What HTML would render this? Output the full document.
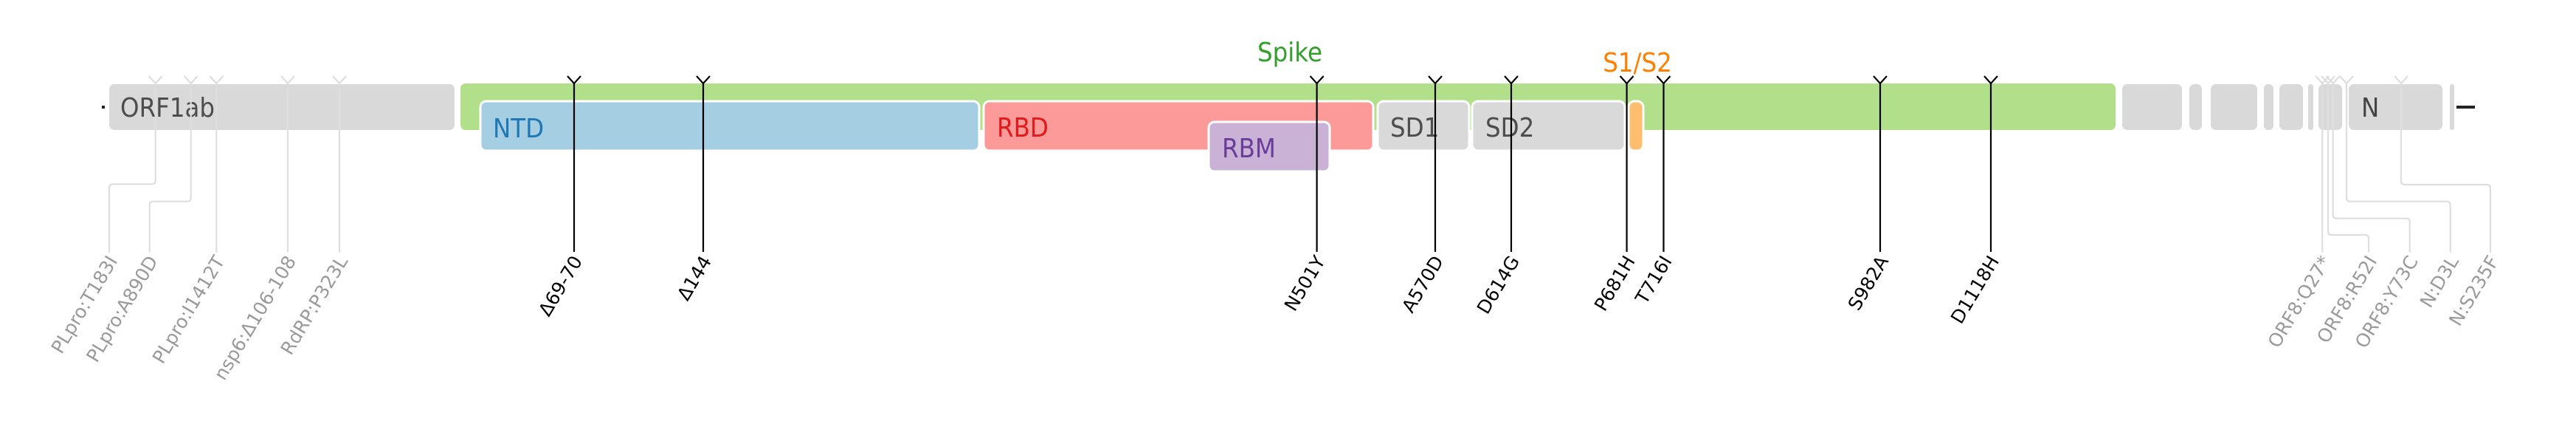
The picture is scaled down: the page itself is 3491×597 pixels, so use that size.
<!DOCTYPE html>
<html>
<head>
<meta charset="utf-8">
<style>
  html, body { margin: 0; padding: 0; background: #ffffff; }
  body { width: 3491px; height: 597px; overflow: hidden; }
  svg { display: block; }
  text { font-family: "DejaVu Sans", "Liberation Sans", sans-serif; }
  .lbl { font-size: 32.5px; }
  .mut { font-size: 25px; }
</style>
</head>
<body>
<svg width="3491" height="597" viewBox="0 0 3491 597" xmlns="http://www.w3.org/2000/svg">
  <rect x="0" y="0" width="3491" height="597" fill="#ffffff"/>

  <!-- genome start dot and end line -->
  <rect x="138" y="143" width="4" height="4" fill="#222"/>
  <rect x="3329" y="143" width="25" height="4" fill="#222"/>

  <!-- ORF1ab -->
  <rect x="147" y="113" width="470" height="64" rx="8" fill="#d9d9d9" stroke="#ffffff" stroke-width="2"/>

  <!-- Spike -->
  <rect x="623" y="112" width="2245" height="65" rx="8" fill="#b2df8a" stroke="#ffffff" stroke-width="2"/>

  <!-- Spike subdomains -->
  <rect x="651" y="137" width="676" height="67" rx="8" fill="#a6cee3" stroke="#ffffff" stroke-width="3"/>
  <rect x="1333" y="137" width="528" height="67" rx="8" fill="#fb9a99" stroke="#ffffff" stroke-width="3"/>
  <rect x="1867" y="137" width="124" height="67" rx="8" fill="#d9d9d9" stroke="#ffffff" stroke-width="3"/>
  <rect x="1995" y="137" width="207" height="67" rx="8" fill="#d9d9d9" stroke="#ffffff" stroke-width="3"/>
  <rect x="2207" y="137" width="20" height="67" rx="8" fill="#fdbf6f" stroke="#ffffff" stroke-width="3"/>
  <rect x="1638" y="165" width="164" height="67" rx="8" fill="#cab2d6" stroke="#ffffff" stroke-width="3"/>

  <!-- Downstream ORFs -->
  <g fill="#d9d9d9" stroke="#ffffff" stroke-width="2">
    <rect x="2875" y="113" width="83" height="64" rx="8"/>
    <rect x="2966" y="113" width="19" height="64" rx="8"/>
    <rect x="2995" y="113" width="65" height="64" rx="8"/>
    <rect x="3067" y="113" width="15" height="64" rx="7"/>
    <rect x="3088" y="113" width="34" height="64" rx="8"/>
    <rect x="3127" y="113" width="9" height="64" rx="4.5"/>
    <rect x="3141" y="113" width="34" height="64" rx="8"/>
    <rect x="3182" y="113" width="129" height="64" rx="8"/>
    <rect x="3319" y="113" width="8" height="64" rx="4"/>
  </g>

  <!-- Region labels -->
  <text class="lbl" fill="#4d4d4d" transform="translate(163,158) scale(1,1.1)">ORF1ab</text>
  <text class="lbl" fill="#1f78b4" transform="translate(668,186) scale(1,1.1)">NTD</text>
  <text class="lbl" fill="#e31a1c" transform="translate(1351,185) scale(1,1.1)">RBD</text>
  <text class="lbl" fill="#6a3d9a" transform="translate(1656,213) scale(1,1.1)">RBM</text>
  <text class="lbl" fill="#4d4d4d" transform="translate(1884,185) scale(1,1.1)">SD1</text>
  <text class="lbl" fill="#4d4d4d" transform="translate(2013,185) scale(1,1.1)">SD2</text>
  <text class="lbl" fill="#444444" transform="translate(3200,158) scale(1,1.1)">N</text>
  <text class="lbl" fill="#33a02c" text-anchor="middle" transform="translate(1748,83) scale(1,1.1)">Spike</text>
  <text class="lbl" fill="#ff7f00" text-anchor="middle" transform="translate(2219,97) scale(1,1.1)">S1/S2</text>

  <!-- Gray mutation lines (ORF1ab) -->
  <g fill="none" stroke="#dedede" stroke-width="2.2" stroke-linejoin="round">
    <polyline points="201.7,103 210.7,113 219.7,103"/>
    <polyline points="249.7,103 258.7,113 267.7,103"/>
    <polyline points="284.3,103 293.3,113 302.3,103"/>
    <polyline points="381,103 390,113 399,103"/>
    <polyline points="451,103 460,113 469,103"/>
    <path d="M210.7,113 V244.3 Q210.7,249.3 205.7,249.3 H153 Q148,249.3 148,254.3 V341.7"/>
    <path d="M258.7,113 V267.7 Q258.7,272.7 253.7,272.7 H207.7 Q202.7,272.7 202.7,277.7 V341.7"/>
    <path d="M293.3,113 V341.7"/>
    <path d="M390,113 V341.7"/>
    <path d="M460,113 V341.7"/>
  </g>

  <!-- Gray mutation lines (ORF8 / N) -->
  <g fill="none" stroke="#dedede" stroke-width="2.2" stroke-linejoin="round">
    <polyline points="3138.3,103 3147.3,113 3156.3,103"/>
    <polyline points="3146,103 3155,113 3164,103"/>
    <polyline points="3152.7,103 3161.7,113 3170.7,103"/>
    <polyline points="3171,103 3180,113 3189,103"/>
    <polyline points="3245,103 3254,113 3263,103"/>
    <path d="M3147.3,113 V341.7"/>
    <path d="M3155,113 V313 Q3155,318 3160,318 H3205 Q3210,318 3210,323 V341.7"/>
    <path d="M3161.7,113 V290.7 Q3161.7,295.7 3166.7,295.7 H3260.7 Q3265.7,295.7 3265.7,300.7 V341.7"/>
    <path d="M3180,113 V267.7 Q3180,272.7 3185,272.7 H3315.7 Q3320.7,272.7 3320.7,277.7 V341.7"/>
    <path d="M3254,113 V245 Q3254,250 3259,250 H3370 Q3375,250 3375,255 V341.7"/>
  </g>

  <!-- Black spike mutation lines -->
  <g fill="none" stroke="#000000" stroke-width="2.2" stroke-linejoin="miter">
    <polyline points="769,103 778,113 787,103"/><path d="M778,113 V341"/>
    <polyline points="944,103 953,113 962,103"/><path d="M953,113 V341"/>
    <polyline points="1775.6,103 1784.6,113 1793.6,103"/><path d="M1784.6,113 V341"/>
    <polyline points="1936,103 1945,113 1954,103"/><path d="M1945,113 V341"/>
    <polyline points="2039,103 2048,113 2057,103"/><path d="M2048,113 V341"/>
    <polyline points="2195.6,103 2204.6,113 2213.6,103"/><path d="M2204.6,113 V341"/>
    <polyline points="2245.5,103 2254.5,113 2263.5,103"/><path d="M2254.5,113 V341"/>
    <polyline points="2539,103 2548,113 2557,103"/><path d="M2548,113 V341"/>
    <polyline points="2689,103 2698,113 2707,103"/><path d="M2698,113 V341"/>
  </g>

  <!-- Black mutation labels -->
  <g class="mut" fill="#000000" text-anchor="end">
    <text class="mut" transform="translate(790,353) rotate(-59)">Δ69-70</text>
    <text class="mut" transform="translate(965,353) rotate(-59)">Δ144</text>
    <text class="mut" transform="translate(1796.6,353) rotate(-59)">N501Y</text>
    <text class="mut" transform="translate(1957,353) rotate(-59)">A570D</text>
    <text class="mut" transform="translate(2060,353) rotate(-59)">D614G</text>
    <text class="mut" transform="translate(2216.6,353) rotate(-59)">P681H</text>
    <text class="mut" transform="translate(2266.5,353) rotate(-59)">T716I</text>
    <text class="mut" transform="translate(2560,353) rotate(-59)">S982A</text>
    <text class="mut" transform="translate(2710,353) rotate(-59)">D1118H</text>
  </g>

  <!-- Gray mutation labels -->
  <g class="mut" fill="#9a9a9a" text-anchor="end">
    <text class="mut" transform="translate(160,353) rotate(-59)">PLpro:T183I</text>
    <text class="mut" transform="translate(214.7,353) rotate(-59)">PLpro:A890D</text>
    <text class="mut" transform="translate(305.3,353) rotate(-59)">PLpro:I1412T</text>
    <text class="mut" transform="translate(402,353) rotate(-59)">nsp6:Δ106-108</text>
    <text class="mut" transform="translate(472,353) rotate(-59)">RdRP:P323L</text>
    <text class="mut" transform="translate(3159.3,353) rotate(-59)">ORF8:Q27*</text>
    <text class="mut" transform="translate(3222,353) rotate(-59)">ORF8:R52I</text>
    <text class="mut" transform="translate(3277.7,353) rotate(-59)">ORF8:Y73C</text>
    <text class="mut" transform="translate(3332.7,353) rotate(-59)">N:D3L</text>
    <text class="mut" transform="translate(3387,353) rotate(-59)">N:S235F</text>
  </g>
</svg>
</body>
</html>
